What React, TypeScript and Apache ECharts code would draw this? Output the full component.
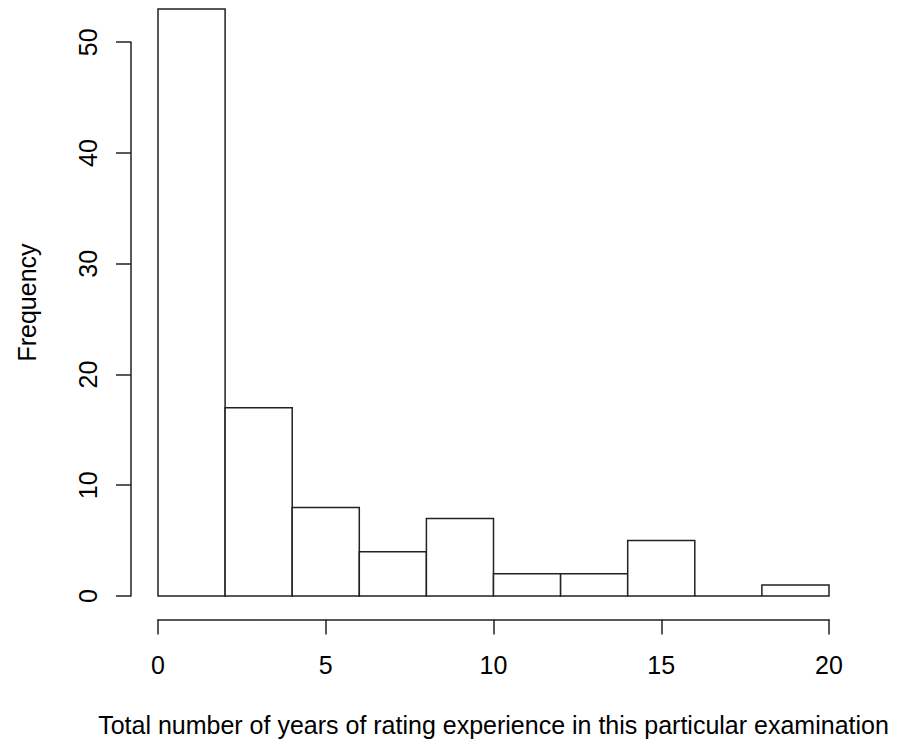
import React, { useEffect, useRef } from "react";
import * as echarts from "echarts";

// ---- data ----
const binStarts = [0, 2, 4, 6, 8, 10, 12, 14, 16, 18];
const binWidth = 2;
const counts = [53, 17, 8, 4, 7, 2, 2, 5, 0, 1];
const xTicks = [0, 5, 10, 15, 20];
const yTicks = [0, 10, 20, 30, 40, 50];
const xTitle = "Total number of years of rating experience in this particular examination";
const yTitle = "Frequency";

// ---- layout (pixels) ----
const W = 901;
const H = 745;
const PLOT_L = 158; // x = 0
const PLOT_R = 829; // x = 20
const Y0 = 596; // y = 0
const YTOP = 9; // y = max count
const XAXIS_Y = 619.5;
const YAXIS_X = 131;
const FONT = "'Liberation Sans', Arial, Helvetica, sans-serif";
const FS = 25;
const INK = "#222";

export default function App() {
  const ref = useRef<HTMLDivElement>(null);
  useEffect(() => {
    if (!ref.current) return;
    const chart = echarts.init(ref.current, undefined, { renderer: "svg" });
    const xMin = xTicks[0];
    const xMax = xTicks[xTicks.length - 1];
    const yMaxData = Math.max(...counts);
    const pxPerY = (Y0 - YTOP) / yMaxData;
    const yAxisTopPx = Y0 - yTicks[yTicks.length - 1] * pxPerY;
    const data = binStarts.map((s, i) => [s, s + binWidth, counts[i]]);

    chart.setOption({
      animation: false,
      backgroundColor: "#fff",
      textStyle: { fontFamily: FONT, color: "#000" },
      grid: [
        { left: PLOT_L, right: W - PLOT_R, top: YTOP, bottom: H - Y0 },
        { left: PLOT_L, right: W - PLOT_R, top: XAXIS_Y - 10, bottom: H - XAXIS_Y },
        { left: YAXIS_X, right: W - YAXIS_X - 1, top: yAxisTopPx, bottom: H - Y0 },
      ],
      xAxis: [
        {
          gridIndex: 0,
          type: "value",
          min: xMin,
          max: xMax,
          axisLine: { show: false },
          axisTick: { show: false },
          axisLabel: { show: false },
          splitLine: { show: false },
          name: xTitle,
          nameLocation: "middle",
          nameGap: 116,
          nameTextStyle: { fontSize: FS, fontFamily: FONT, color: "#000" },
        },
        {
          gridIndex: 1,
          type: "value",
          min: xMin,
          max: xMax,
          interval: 5,
          axisLine: { show: true, lineStyle: { color: INK, width: 1.5 } },
          axisTick: { show: true, length: 15, lineStyle: { color: INK, width: 1.5 } },
          axisLabel: { show: true, fontSize: FS, fontFamily: FONT, color: "#000", margin: 33 },
          splitLine: { show: false },
        },
        {
          gridIndex: 2,
          type: "value",
          show: false,
        },
      ],
      yAxis: [
        {
          gridIndex: 0,
          type: "value",
          min: 0,
          max: yMaxData,
          axisLine: { show: false },
          axisTick: { show: false },
          axisLabel: { show: false },
          splitLine: { show: false },
          name: yTitle,
          nameLocation: "middle",
          nameRotate: 90,
          nameGap: 119,
          nameTextStyle: { fontSize: FS, fontFamily: FONT, color: "#000" },
        },
        { gridIndex: 1, type: "value", show: false },
        {
          gridIndex: 2,
          type: "value",
          min: yTicks[0],
          max: yTicks[yTicks.length - 1],
          interval: 10,
          axisLine: { show: true, lineStyle: { color: INK, width: 1.5 } },
          axisTick: { show: true, length: 15, lineStyle: { color: INK, width: 1.5 } },
          axisLabel: { show: true, rotate: 90, fontSize: FS, fontFamily: FONT, color: "#000", margin: 31 },
          splitLine: { show: false },
        },
      ],
      series: [
        {
          type: "custom",
          xAxisIndex: 0,
          yAxisIndex: 0,
          encode: { x: [0, 1], y: 2 },
          data,
          renderItem: (params: any, api: any) => {
            const s = api.value(0);
            const e = api.value(1);
            const c = api.value(2);
            const p0 = api.coord([s, 0]);
            const p1 = api.coord([e, c]);
            return {
              type: "rect",
              shape: { x: p0[0], y: p1[1], width: p1[0] - p0[0], height: p0[1] - p1[1] },
              style: { fill: "#fff", stroke: INK, lineWidth: 1.5 },
            };
          },
        },
      ],
    });
    return () => chart.dispose();
  }, []);
  return <div ref={ref} style={{ width: W, height: H, position: "absolute", left: 0, top: 0 }} />;
}
